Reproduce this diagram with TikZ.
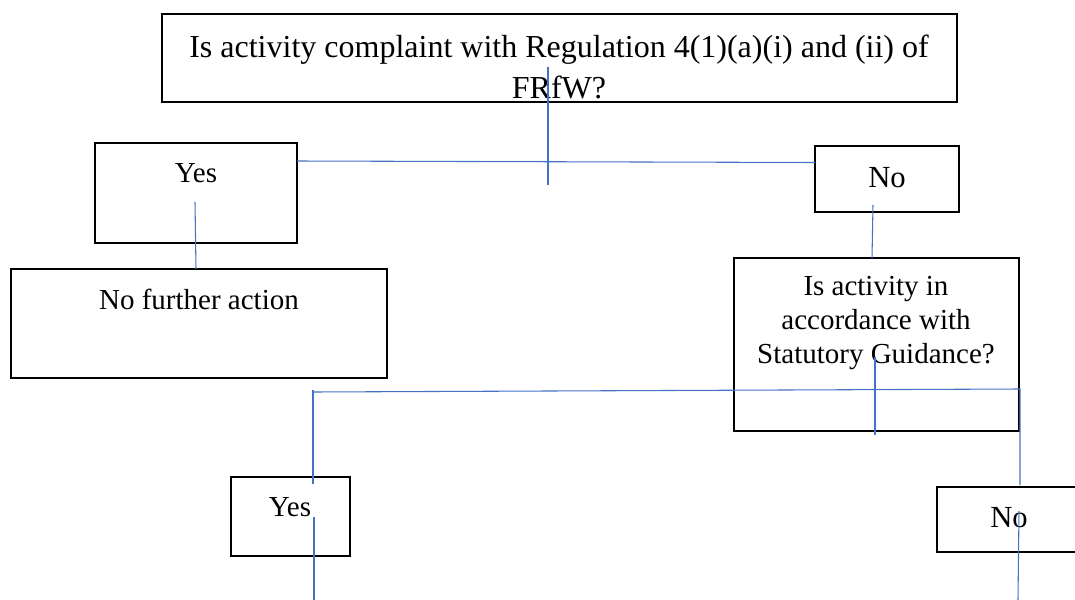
\documentclass[tikz,border=0pt]{standalone}
\usepackage{fontspec}
\setmainfont{Liberation Serif}
\usetikzlibrary{fit}
\definecolor{linkblue}{HTML}{4472C4}
\tikzset{
  box/.style={draw=black, line width=1.5pt, inner sep=0pt, fill=none},
  txt/.style={inner sep=0pt, align=center, text=black},
  link/.style={draw=linkblue, line width=0.8pt},
}
\begin{document}
\begin{tikzpicture}[x=0.75pt,y=-0.75pt]
\useasboundingbox[fill=white] (0,0) rectangle (1075,600);
% boxes
\node[box, fit={(162,14) (957,102)}] (top) {};
\node[box, fit={(95,143) (297,243)}] (yes1) {};
\node[box, fit={(11,269) (387,378)}] (nfa) {};
\node[box, fit={(815,146) (959,212)}] (no1) {};
\node[box, fit={(734,258) (1019,431)}] (stat) {};
\node[box, fit={(231,477) (350,556)}] (yes2) {};
\node[box, fit={(937,487) (1085,552)}] (no2) {};
% texts
\node[txt, font=\fontsize{24pt}{30.75pt}\selectfont] (topT) at (559,67) {Is activity complaint with Regulation 4(1)(a)(i) and (ii) of\\FRfW?};
\node[txt, font=\fontsize{21.75pt}{25pt}\selectfont] (yes1T) at (196,173) {Yes};
\node[txt, font=\fontsize{21.75pt}{25pt}\selectfont] (nfaT) at (199,299) {No further action};
\node[txt, font=\fontsize{23pt}{25pt}\selectfont] (no1T) at (887,178) {No};
\node[txt, font=\fontsize{21.75pt}{25.5pt}\selectfont] (statT) at (876,323) {Is activity in\\accordance with\\Statutory Guidance?};
\node[txt, font=\fontsize{21.75pt}{25pt}\selectfont] (yes2T) at (290,507) {Yes};
\node[txt, font=\fontsize{23pt}{25pt}\selectfont] (no2T) at (1009,518) {No};
% connector end points
\coordinate (c1a) at (548,67);
\coordinate (c1b) at (548,185);
\coordinate (c2a) at (297,161);
\coordinate (c2b) at (815,162.5);
\coordinate (c3a) at (195,202);
\coordinate (c3b) at (196,269);
\coordinate (c4a) at (873,205);
\coordinate (c4b) at (872,258);
\coordinate (c5a) at (875,357);
\coordinate (c5b) at (875,435);
\coordinate (c6a) at (313,392);
\coordinate (c6b) at (1020,389);
\coordinate (c6c) at (1020,485);
\coordinate (c7a) at (313,390);
\coordinate (c7b) at (313,484);
\coordinate (c8a) at (314,517);
\coordinate (c8b) at (314,600);
\coordinate (c9a) at (1019,511);
\coordinate (c9b) at (1018,600);
% connectors
\draw[link] (c1a) -- (c1b);
\draw[link] (c2a) -- (c2b);
\draw[link] (c3a) -- (c3b);
\draw[link] (c4a) -- (c4b);
\draw[link] (c5a) -- (c5b);
\draw[link] (c6a) -- (c6b) -- (c6c);
\draw[link] (c7a) -- (c7b);
\draw[link] (c8a) -- (c8b);
\draw[link] (c9a) -- (c9b);
\end{tikzpicture}
\end{document}
